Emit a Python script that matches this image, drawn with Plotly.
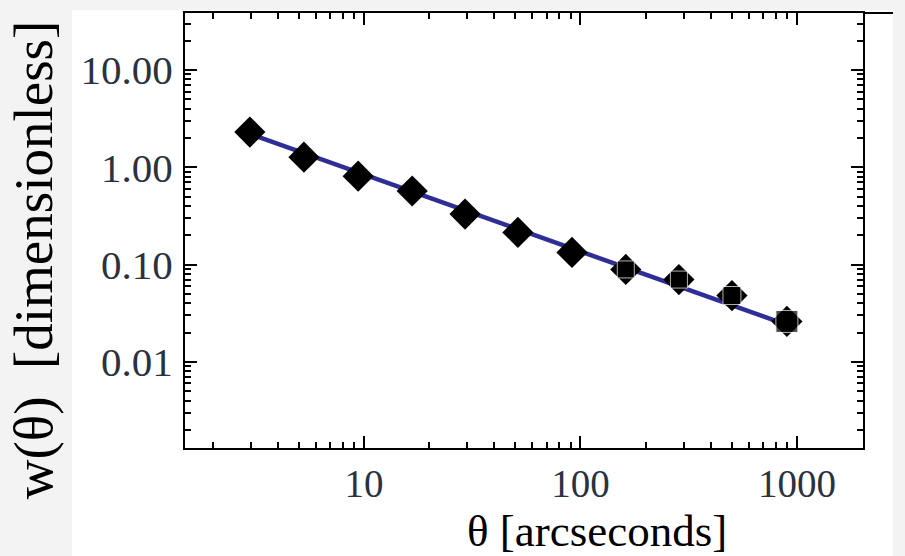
import numpy as np
import plotly.graph_objects as go

# Data
theta = [2.97, 5.28, 9.4, 16.7, 29.3, 51.4, 91.4, 162, 285, 501, 899]
w_theta = [2.30, 1.27, 0.81, 0.57, 0.33, 0.214, 0.133, 0.089, 0.070, 0.048, 0.026]
fit_theta = [2.97, 899]
fit_w = [2.20, 0.024]

x_tickvals = [10, 100, 1000]
x_ticktext = ["10", "100", "1000"]
y_tickvals = [0.01, 0.1, 1, 10]
y_ticktext = ["0.01", "0.10", "1.00", "10.00"]

FONT = "Liberation Serif, Times New Roman, serif"

fig = go.Figure()
fig.add_trace(go.Scatter(x=fit_theta, y=fit_w, mode="lines",
                         line=dict(color="#2e2e96", width=4.5), showlegend=False))
fig.add_trace(go.Scatter(x=theta, y=w_theta, mode="markers",
                         marker=dict(symbol="diamond", size=24, color="black"),
                         showlegend=False))
fig.add_trace(go.Scatter(x=theta[7:], y=w_theta[7:], mode="markers",
                         marker=dict(symbol="square", size=[17, 17, 18, 22], color="black"),
                         showlegend=False))

axis_common = dict(
    type="log", showgrid=False, zeroline=False,
    showline=True, linecolor="black", linewidth=2, mirror="allticks",
    ticks="inside", ticklen=12, tickwidth=2, tickcolor="black",
    minor=dict(ticks="inside", dtick="D1", ticklen=6, tickwidth=1.5,
               tickcolor="black", showgrid=False),
    tickfont=dict(family=FONT, size=41, color="#2b3140"),
)

fig.update_xaxes(**axis_common, range=[np.log10(1.49), np.log10(2020)],
                 tickvals=x_tickvals, ticktext=x_ticktext, ticklabelstandoff=0)
fig.update_xaxes(tickfont=dict(size=39))
fig.update_yaxes(**axis_common, range=[np.log10(0.0013), np.log10(38.5)],
                 tickvals=y_tickvals, ticktext=y_ticktext, ticklabelstandoff=2)

fig.add_annotation(text="θ [arcseconds]", xref="paper", yref="paper",
                   x=0.608, y=-0.191, xanchor="center", yanchor="middle",
                   showarrow=False,
                   font=dict(family=FONT, size=45, color="black"))
fig.add_annotation(text="w(θ)  [dimensionless]", xref="paper", yref="paper",
                   x=-0.224, y=0.432, xanchor="center", yanchor="middle",
                   showarrow=False, textangle=-90,
                   font=dict(family=FONT, size=55, color="black"))

# white panel behind the chart (reference is a cropped screenshot on light gray)
fig.add_shape(type="rect", xref="paper", yref="paper",
              x0=(72 - 185) / 678, x1=(893 - 185) / 678,
              y0=(448 - 556) / 435, y1=(448 - 10) / 435,
              fillcolor="white", line=dict(width=0), layer="below")
# top border continues past the right axis in the reference
fig.add_shape(type="line", xref="paper", yref="paper",
              x0=1, x1=(893 - 185) / 678, y0=1, y1=1,
              line=dict(color="black", width=2))

fig.update_layout(
    width=905, height=556,
    margin=dict(l=185, r=42, t=13, b=108),
    paper_bgcolor="#f3f3f3", plot_bgcolor="white",
    showlegend=False,
)

fig.write_html("out.html")
